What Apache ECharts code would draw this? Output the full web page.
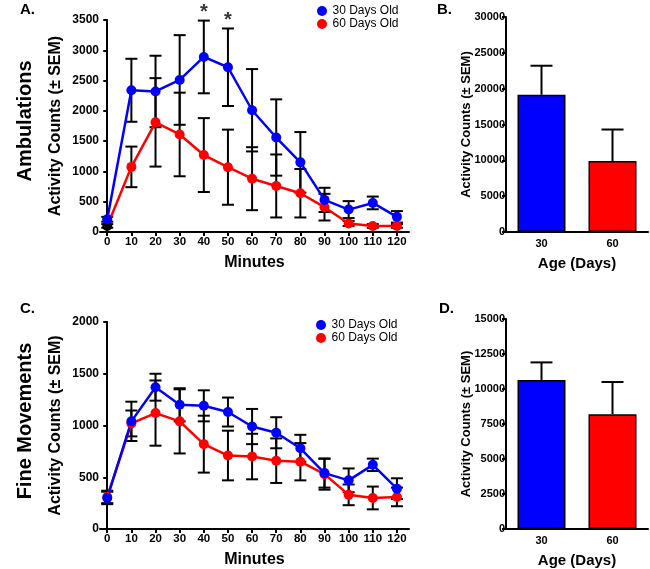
<!DOCTYPE html>
<html>
<head>
<meta charset="utf-8">
<script src="https://cdn.jsdelivr.net/npm/echarts@6/dist/echarts.min.js"></script>
<style>html,body{margin:0;padding:0;background:#fff}#c{width:650px;height:569px}</style>
</head>
<body>
<div id="c"></div>
<script>
const minutes = [0, 10, 20, 30, 40, 50, 60, 70, 80, 90, 100, 110, 120];
const ambul30 = [210, 2340, 2320, 2510, 2890, 2720, 2010, 1560, 1150, 530, 370, 480, 250];
const ambul30Sem = [40, 520, 590, 740, 600, 640, 680, 630, 500, 200, 140, 105, 95];
const ambul60 = [100, 1075, 1810, 1610, 1270, 1070, 880, 760, 640, 410, 140, 100, 100];
const ambul60Sem = [30, 335, 730, 690, 610, 620, 520, 520, 400, 220, 40, 30, 30];
const ambulStars = [40, 50];
const fine30 = [300, 1040, 1370, 1200, 1190, 1130, 990, 930, 780, 540, 470, 620, 390];
const fine30Sem = [60, 190, 130, 160, 150, 140, 170, 150, 130, 140, 115, 60, 100];
const fine60 = [310, 1020, 1120, 1040, 820, 710, 700, 660, 650, 530, 330, 300, 310];
const fine60Sem = [60, 125, 315, 310, 275, 240, 220, 215, 180, 150, 100, 110, 90];
const ageLabels = ['30', '60'];
const ambulTotal = [19150, 9900];
const ambulTotalSem = [4050, 4400];
const fineTotal = [10650, 8200];
const fineTotalSem = [1250, 2300];
const legendNames = ['30 Days Old', '60 Days Old'];

const FONT = '"Liberation Sans", Arial, sans-serif';
const BLUE = '#0000ff', RED = '#ff0000';

function pairs(xs, ys) { return xs.map((x, i) => [x, ys[i]]); }
function errData(xs, ys, es) { return xs.map((x, i) => [x, ys[i], es[i]]); }

function errRender(capW, upperOnly) {
  return function (params, api) {
    const x = api.value(0), y = api.value(1), e = api.value(2);
    const top = api.coord([x, y + e]);
    const bot = api.coord([x, upperOnly ? y : y - e]);
    const st = { stroke: '#000', lineWidth: 2 };
    const children = [
      { type: 'line', shape: { x1: top[0], y1: top[1], x2: bot[0], y2: bot[1] }, style: st },
      { type: 'line', shape: { x1: top[0] - capW / 2, y1: top[1], x2: top[0] + capW / 2, y2: top[1] }, style: st }
    ];
    if (!upperOnly) children.push({ type: 'line', shape: { x1: bot[0] - capW / 2, y1: bot[1], x2: bot[0] + capW / 2, y2: bot[1] }, style: st });
    return { type: 'group', children: children };
  };
}

const axisLineStyle = { show: true, lineStyle: { color: '#000', width: 2 } };
const tickStyle = { show: true, length: 4, lineStyle: { color: '#000', width: 2 } };
function labelStyle(size) { return { color: '#000', fontWeight: 'bold', fontSize: size, fontFamily: FONT }; }

function lineX(gi) {
  return {
    type: 'value', gridIndex: gi, min: -3, max: 125,
    axisLine: axisLineStyle,
    axisTick: Object.assign({ customValues: minutes }, tickStyle),
    axisLabel: Object.assign({ customValues: minutes, margin: 4, formatter: v => String(v) }, labelStyle(11.5)),
    splitLine: { show: false },
    name: 'Minutes', nameLocation: 'middle', nameGap: 23, nameMoveOverlap: false,
    nameTextStyle: { color: '#000', fontWeight: 'bold', fontSize: 16, fontFamily: FONT }
  };
}
function barX(gi) {
  return {
    type: 'category', gridIndex: gi, data: ageLabels,
    axisLine: axisLineStyle, axisTick: { show: false },
    axisLabel: Object.assign({ margin: 6 }, labelStyle(11)),
    name: 'Age (Days)', nameLocation: 'middle', nameGap: 24, nameMoveOverlap: false,
    nameTextStyle: { color: '#000', fontWeight: 'bold', fontSize: 15, fontFamily: FONT }
  };
}
function yAx(gi, max, interval, gap, labelSize, nameSize, margin) {
  return {
    type: 'value', gridIndex: gi, min: 0, max: max, interval: interval,
    axisLine: axisLineStyle, axisTick: tickStyle,
    axisLabel: Object.assign({ margin: margin, formatter: v => String(v) }, labelStyle(labelSize)),
    splitLine: { show: false },
    name: 'Activity Counts (\u00b1 SEM)', nameLocation: 'middle', nameGap: gap, nameMoveOverlap: false,
    nameTextStyle: { color: '#000', fontWeight: 'bold', fontSize: nameSize, fontFamily: FONT }
  };
}
function lineSeries(name, gi, ys, color, firstColor) {
  const data = pairs(minutes, ys).map((p, i) => (i === 0 && firstColor) ? { value: p, itemStyle: { color: firstColor } } : p);
  return {
    type: 'line', name: name, xAxisIndex: gi, yAxisIndex: gi, data: data,
    symbol: 'circle', symbolSize: 10, z: 5,
    lineStyle: { color: color, width: 2.5 }, itemStyle: { color: color }
  };
}
function errSeries(gi, xs, ys, es, capW, upperOnly) {
  return {
    type: 'custom', xAxisIndex: gi, yAxisIndex: gi, z: 3,
    data: errData(xs, ys, es), renderItem: errRender(capW, upperOnly)
  };
}

const starIdx = ambulStars.map(m => minutes.indexOf(m));
const starData = starIdx.map(i => [minutes[i], ambul30[i] + ambul30Sem[i]]);

const legendText = { color: '#000', fontSize: 12, fontFamily: FONT, lineHeight: 12 };

const option = {
  animation: false,
  backgroundColor: '#fff',
  grid: [
    { left: 100, right: 241, top: 20, bottom: 337 },
    { left: 506, right: 2, top: 17, bottom: 337 },
    { left: 100, right: 241, top: 322, bottom: 36 },
    { left: 506, right: 2, top: 319, bottom: 36 }
  ],
  legend: [
    { data: legendNames, left: 317, top: 5, orient: 'vertical', itemGap: 1, itemWidth: 11, itemHeight: 10, icon: 'circle', padding: 0,
      textStyle: legendText, selectedMode: false },
    { data: legendNames, left: 316, top: 319, orient: 'vertical', itemGap: 1, itemWidth: 11, itemHeight: 10, icon: 'circle', padding: 0,
      textStyle: legendText, selectedMode: false }
  ],
  xAxis: [lineX(0), barX(1), lineX(2), barX(3)],
  yAxis: [
    yAx(0, 3500, 500, 36, 12, 16, 1),
    yAx(1, 30000, 5000, 33, 11, 13, 1),
    yAx(2, 2000, 500, 36, 12, 16, 1),
    yAx(3, 15000, 2500, 33, 11, 13, 1)
  ],
  series: [
    errSeries(0, minutes, ambul30, ambul30Sem, 12, false),
    errSeries(0, minutes, ambul60, ambul60Sem, 12, false),
    lineSeries(legendNames[1], 0, ambul60, RED, '#000'),
    lineSeries(legendNames[0], 0, ambul30, BLUE),
    {
      type: 'scatter', xAxisIndex: 0, yAxisIndex: 0, data: starData, symbolSize: 0, z: 6,
      label: { show: true, position: 'top', distance: -2, formatter: '*', color: '#000', fontSize: 20, fontWeight: 'bold', fontFamily: FONT }
    },
    errSeries(2, minutes, fine30, fine30Sem, 12, false),
    errSeries(2, minutes, fine60, fine60Sem, 12, false),
    lineSeries(legendNames[1], 2, fine60, RED),
    lineSeries(legendNames[0], 2, fine30, BLUE),
    {
      type: 'bar', xAxisIndex: 1, yAxisIndex: 1, barWidth: 48, z: 4,
      data: ambulTotal.map((v, i) => ({ value: v, itemStyle: { color: i === 0 ? BLUE : RED, borderColor: '#000', borderWidth: 1.5 } }))
    },
    errSeries(1, [0, 1], ambulTotal, ambulTotalSem, 22, true),
    {
      type: 'bar', xAxisIndex: 3, yAxisIndex: 3, barWidth: 48, z: 4,
      data: fineTotal.map((v, i) => ({ value: v, itemStyle: { color: i === 0 ? BLUE : RED, borderColor: '#000', borderWidth: 1.5 } }))
    },
    errSeries(3, [0, 1], fineTotal, fineTotalSem, 22, true)
  ],
  graphic: [
    { type: 'text', left: 20, top: 2, style: { text: 'A.', font: 'bold 15px ' + FONT, fill: '#000' } },
    { type: 'text', left: 437, top: 2, style: { text: 'B.', font: 'bold 15px ' + FONT, fill: '#000' } },
    { type: 'text', left: 20, top: 301, style: { text: 'C.', font: 'bold 15px ' + FONT, fill: '#000' } },
    { type: 'text', left: 439, top: 301, style: { text: 'D.', font: 'bold 15px ' + FONT, fill: '#000' } },
    { type: 'text', x: 25, y: 121, rotation: Math.PI / 2,
      style: { text: 'Ambulations', font: 'bold 20px ' + FONT, fill: '#000', align: 'center', verticalAlign: 'middle' } },
    { type: 'text', x: 25, y: 421, rotation: Math.PI / 2,
      style: { text: 'Fine Movements', font: 'bold 20px ' + FONT, fill: '#000', align: 'center', verticalAlign: 'middle' } }
  ]
};

const chart = echarts.init(document.getElementById('c'), null, { renderer: 'canvas' });
chart.setOption(option);
</script>
</body>
</html>
